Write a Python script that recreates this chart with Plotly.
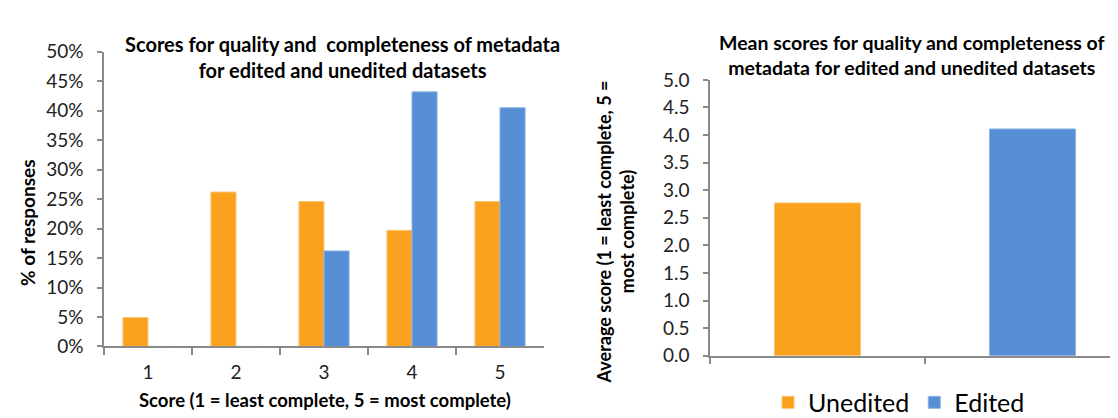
import plotly.graph_objects as go

# ---- data ----
scores = ["1", "2", "3", "4", "5"]
unedited_pct = [4.9, 26.2, 24.6, 19.7, 24.6]
edited_pct = [0, 0, 16.2, 43.2, 40.5]

mean_groups = ["Unedited", "Edited"]
mean_scores = [2.77, 4.11]

y1_ticks = [0, 5, 10, 15, 20, 25, 30, 35, 40, 45, 50]
y1_labels = [f"{v}%" for v in y1_ticks]
y2_ticks = [0, 0.5, 1, 1.5, 2, 2.5, 3, 3.5, 4, 4.5, 5]
y2_labels = [f"{v:.1f}" for v in y2_ticks]

ORANGE = "#FAA21E"
BLUE = "#558ED5"
AX = "#8A8A8A"
FONT = "Lato"
W, H = 1118, 418

fig = go.Figure()

# left chart
fig.add_trace(go.Bar(x=scores, y=unedited_pct, name="Unedited", marker=dict(color=ORANGE, line=dict(color="#FCC46E", width=1)),
                     width=0.285, offset=-0.285, xaxis="x", yaxis="y", showlegend=False, hoverinfo="skip"))
fig.add_trace(go.Bar(x=scores, y=edited_pct, name="Edited", marker=dict(color=BLUE, line=dict(color="#8DB2E3", width=1)),
                     width=0.285, offset=0, xaxis="x", yaxis="y", showlegend=False, hoverinfo="skip"))

# right chart
fig.add_trace(go.Bar(x=[mean_groups[0]], y=[mean_scores[0]], name="Unedited", marker=dict(color=ORANGE, line=dict(color="#FCC46E", width=1)),
                     width=0.4, offset=-0.2, xaxis="x2", yaxis="y2", hoverinfo="skip"))
fig.add_trace(go.Bar(x=[mean_groups[1]], y=[mean_scores[1]], name="Edited", marker=dict(color=BLUE, line=dict(color="#8DB2E3", width=1)),
                     width=0.4, offset=-0.2, xaxis="x2", yaxis="y2", hoverinfo="skip"))

def px_x(p):
    return p / W

def px_y(p):
    return (H - p) / H

tickfont = dict(family=FONT, size=19, color="#222")

fig.update_layout(
    width=W, height=H,
    margin=dict(l=0, r=0, t=0, b=0),
    paper_bgcolor="white", plot_bgcolor="white",
    font=dict(family=FONT, color="#000"),
    barmode="overlay",
    xaxis=dict(domain=[px_x(96), px_x(536)], type="category", categoryorder="array", categoryarray=scores,
               range=[-0.5, 4.5], showline=True, linecolor=AX, linewidth=1.5, ticks="outside", tickson="boundaries",
               ticklen=7, tickcolor=AX, tickwidth=1.5, showgrid=False, tickfont=tickfont, ticklabelstandoff=8,
               fixedrange=True),
    yaxis=dict(domain=[px_y(349), px_y(34)], range=[0, 50], tickvals=y1_ticks, ticktext=y1_labels,
               showline=True, linecolor=AX, linewidth=1.5, ticks="outside", ticklen=5, tickcolor=AX, tickwidth=1.5,
               showgrid=False, zeroline=False, tickfont=tickfont, ticklabelstandoff=10, anchor="x"),
    xaxis2=dict(domain=[px_x(702), 1.0], type="category", categoryorder="array", categoryarray=mean_groups,
                range=[-0.5, 1.5 - 14 / 215], showline=True, linecolor=AX, linewidth=1.5, ticks="outside",
                tickson="boundaries", ticklen=6, tickcolor=AX, tickwidth=1.5, showgrid=False, showticklabels=False,
                anchor="y2"),
    yaxis2=dict(domain=[px_y(359), px_y(64)], range=[0, 5], tickvals=y2_ticks, ticktext=y2_labels,
                showline=True, linecolor=AX, linewidth=1.5, ticks="outside", ticklen=5, tickcolor=AX, tickwidth=1.5,
                showgrid=False, zeroline=False, tickfont=tickfont, ticklabelstandoff=10, anchor="x2"),
    legend=dict(orientation="h", x=px_x(760), y=px_y(409), xanchor="left", yanchor="middle",
                font=dict(family=FONT, size=25, color="#000"), bgcolor="rgba(0,0,0,0)", traceorder="normal"),
    annotations=[
        dict(text="<b>Scores for quality and  completeness of metadata<br>for edited and unedited datasets</b>",
             x=px_x(334), y=px_y(40), xref="paper", yref="paper", xanchor="center", yanchor="middle",
             showarrow=False, font=dict(family=FONT, size=20, color="#000")),
        dict(text="<b>Score (1 = least complete, 5 = most complete)</b>",
             x=px_x(317), y=px_y(406), xref="paper", yref="paper", xanchor="center", yanchor="middle",
             showarrow=False, font=dict(family=FONT, size=18.5, color="#000")),
        dict(text="<b>% of responses</b>", textangle=-90,
             x=px_x(20), y=px_y(217), xref="paper", yref="paper", xanchor="center", yanchor="middle",
             showarrow=False, font=dict(family=FONT, size=19, color="#000")),
        dict(text="<b>Mean scores for quality and completeness of<br>metadata for edited and unedited datasets</b>",
             x=px_x(903), y=px_y(37), xref="paper", yref="paper", xanchor="center", yanchor="middle",
             showarrow=False, font=dict(family=FONT, size=19.5, color="#000")),
        dict(text="<b>Average score (1 = least complete, 5 =<br>most complete)</b>", textangle=-90,
             x=px_x(607), y=px_y(226), xref="paper", yref="paper", xanchor="center", yanchor="middle",
             showarrow=False, font=dict(family=FONT, size=18, color="#000")),
    ],
)

fig.write_html("out.html")
